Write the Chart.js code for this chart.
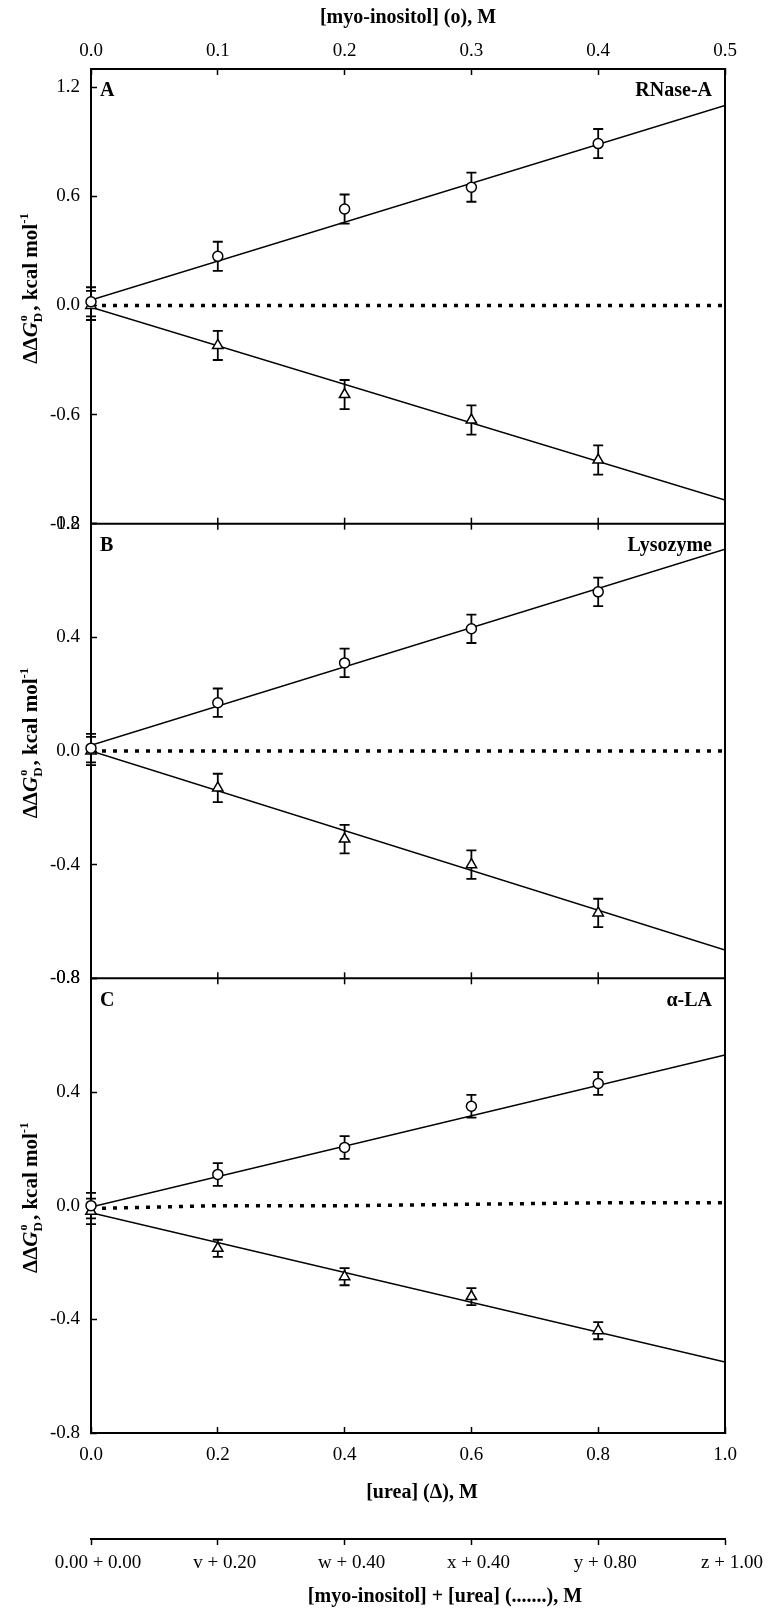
<!DOCTYPE html>
<html>
<head>
<meta charset="utf-8">
<script src="https://cdn.jsdelivr.net/npm/chart.js@4.4.1/dist/chart.umd.min.js"></script>
<style>
  html, body { margin: 0; padding: 0; background: #fff; }
  canvas { display: block; }
</style>
</head>
<body>
<canvas id="inositolChart" width="779" height="1615"></canvas>
<script>
// x positions (M)
const ureaConc = [0, 0.2, 0.4, 0.6, 0.8];
const inositolConc = [0, 0.1, 0.2, 0.3, 0.4];
const mixConc = [0, 0.2, 0.4, 0.6, 0.8, 1.0];
const mixTickLabels = ['0.00 + 0.00', 'v + 0.20', 'w + 0.40', 'x + 0.40', 'y + 0.80', 'z + 1.00'];
const ureaFitX = [0, 1.0];
const inositolFitX = [0, 0.5];

// y ticks for each panel
const ticksA = [-1.2, -0.6, 0, 0.6, 1.2];
const ticksBC = [-0.8, -0.4, 0, 0.4, 0.8];

const panelLetters = ['A', 'B', 'C'];
const proteinNames = ['RNase-A', 'Lysozyme', 'α-LA'];

// Panel A - RNase-A
const inositolA = [0.02, 0.27, 0.53, 0.65, 0.89];
const inositolErrA = [0.08, 0.08, 0.08, 0.08, 0.08];
const ureaA = [0.0, -0.22, -0.49, -0.63, -0.85];
const ureaErrA = [0.08, 0.08, 0.08, 0.08, 0.08];
const mixA = [0, 0, 0, 0, 0, 0];
const inositolFitA = [0.03, 1.10];
const ureaFitA = [-0.01, -1.07];

// Panel B - Lysozyme
const inositolB = [0.01, 0.17, 0.31, 0.43, 0.56];
const inositolErrB = [0.05, 0.05, 0.05, 0.05, 0.05];
const ureaB = [0.0, -0.13, -0.31, -0.40, -0.57];
const ureaErrB = [0.05, 0.05, 0.05, 0.05, 0.05];
const mixB = [0, 0, 0, 0, 0, 0];
const inositolFitB = [0.02, 0.71];
const ureaFitB = [0.0, -0.70];

// Panel C - alpha-LA
const inositolC = [0.0, 0.11, 0.205, 0.35, 0.43];
const inositolErrC = [0.045, 0.04, 0.04, 0.04, 0.04];
const ureaC = [-0.02, -0.15, -0.25, -0.32, -0.44];
const ureaErrC = [0.045, 0.03, 0.03, 0.03, 0.03];
const mixC = [-0.01, 0, 0, 0.005, 0.01, 0.01];
const inositolFitC = [-0.005, 0.53];
const ureaFitC = [-0.025, -0.55];

const serif = '"Liberation Serif", "Times New Roman", serif';
const tickFont = { family: serif, size: 19 };
const titleFont = { family: serif, size: 20, weight: 'bold' };

function pts(xs, ys) {
    return xs.map((x, i) => ({ x: x, y: ys[i] }));
}

function panelDatasets(yId, inoY, inoErr, ureaY, ureaErr, mixY, inoFit, ureaFit) {
    return [{
        label: 'myo-inositol',
        data: pts(inositolConc, inoY),
        errors: inoErr,
        xAxisID: 'x2', yAxisID: yId,
        pointStyle: 'circle', pointRadius: 5,
        pointBackgroundColor: '#fff', pointBorderColor: '#000', pointBorderWidth: 1.5,
        showLine: false, clip: false
    }, {
        label: 'urea',
        data: pts(ureaConc, ureaY),
        errors: ureaErr,
        xAxisID: 'x', yAxisID: yId,
        pointStyle: 'triangle', pointRadius: 6,
        pointBackgroundColor: '#fff', pointBorderColor: '#000', pointBorderWidth: 1.5,
        showLine: false, clip: false
    }, {
        label: 'myo-inositol fit',
        data: pts(inositolFitX, inoFit),
        xAxisID: 'x2', yAxisID: yId,
        showLine: true, pointRadius: 0, borderColor: '#000', borderWidth: 1.5
    }, {
        label: 'urea fit',
        data: pts(ureaFitX, ureaFit),
        xAxisID: 'x', yAxisID: yId,
        showLine: true, pointRadius: 0, borderColor: '#000', borderWidth: 1.5
    }, {
        label: 'mixture',
        data: pts(mixConc, mixY),
        xAxisID: 'x', yAxisID: yId,
        showLine: true, pointRadius: 0, borderColor: '#000', borderWidth: 3.5,
        borderDash: [4, 7], clip: false
    }];
}

function yAxis(min, max, ticks, weight) {
    return {
        type: 'linear', position: 'left', stack: 'panels', stackWeight: 1, weight: weight,
        min: min, max: max,
        afterBuildTicks: s => { s.ticks = ticks.map(v => ({ value: v })); },
        afterFit: s => { s.width = 91; },
        border: { display: true, color: '#000', width: 2 },
        grid: { drawOnChartArea: false, tickLength: -6, tickColor: '#000', tickWidth: 1.5 },
        ticks: { color: '#000', padding: 17, font: tickFont, callback: v => v.toFixed(1) }
    };
}

// error bars under the markers
const errorBarPlugin = {
    id: 'errorBars',
    beforeDatasetsDraw(chart) {
        const ctx = chart.ctx;
        ctx.save();
        ctx.strokeStyle = '#000';
        ctx.lineWidth = 1.8;
        chart.data.datasets.forEach(ds => {
            if (!ds.errors) return;
            const xs = chart.scales[ds.xAxisID];
            const ys = chart.scales[ds.yAxisID];
            ds.data.forEach((p, j) => {
                const x = xs.getPixelForValue(p.x);
                const y1 = ys.getPixelForValue(p.y + ds.errors[j]);
                const y2 = ys.getPixelForValue(p.y - ds.errors[j]);
                ctx.beginPath();
                ctx.moveTo(x, y1); ctx.lineTo(x, y2);
                ctx.moveTo(x - 5, y1); ctx.lineTo(x + 5, y1);
                ctx.moveTo(x - 5, y2); ctx.lineTo(x + 5, y2);
                ctx.stroke();
            });
        });
        ctx.restore();
    }
};

// right border, panel separators, panel labels, axis titles
const framePlugin = {
    id: 'frame',
    afterDraw(chart) {
        const ctx = chart.ctx;
        const area = chart.chartArea;
        const xs = chart.scales.x;
        const panels = ['yA', 'yB', 'yC'].map(id => chart.scales[id]);
        ctx.save();
        ctx.strokeStyle = '#000';
        ctx.lineWidth = 2;
        ctx.beginPath();
        ctx.moveTo(area.right, area.top - 1);
        ctx.lineTo(area.right, area.bottom + 1);
        ctx.stroke();

        // separators with ticks on both sides
        [panels[0].bottom, panels[1].bottom].forEach(y => {
            ctx.lineWidth = 2;
            ctx.beginPath();
            ctx.moveTo(area.left, y); ctx.lineTo(area.right, y);
            ctx.stroke();
            ctx.lineWidth = 1.5;
            xs.ticks.forEach(t => {
                if (t.value <= 0 || t.value >= 1) return;
                const x = xs.getPixelForValue(t.value);
                ctx.beginPath();
                ctx.moveTo(x, y - 6); ctx.lineTo(x, y + 6);
                ctx.stroke();
            });
        });

        ctx.fillStyle = '#000';
        ctx.textBaseline = 'middle';

        // bottom axis titles (sit a little right of centre in the original)
        const midX = (area.left + area.right) / 2;
        ctx.font = 'bold 20px ' + serif;
        ctx.textAlign = 'center';
        ctx.fillText('[urea] (Δ), M', midX + 14, chart.scales.x.bottom - 46);
        ctx.fillText('[myo-inositol] + [urea] (.......), M', midX + 37, chart.scales.x3.bottom - 18);

        // panel letters and protein names
        ctx.font = 'bold 20px ' + serif;
        panels.forEach((s, i) => {
            ctx.textAlign = 'left';
            ctx.fillText(panelLetters[i], area.left + 9, s.top + 22);
            ctx.textAlign = 'right';
            ctx.fillText(proteinNames[i], area.right - 13, s.top + 22);
        });

        // y axis titles
        const parts = [
            { t: 'ΔΔ', f: 'bold 21px ' + serif, dy: 0 },
            { t: 'G', f: 'italic bold 21px ' + serif, dy: 0 },
            { t: 'D', f: 'bold 13px ' + serif, dy: 5, pair: { t: 'o', f: 'bold 12px ' + serif, dy: -10 } },
            { t: ', kcal mol', f: 'bold 21px ' + serif, dy: 0 },
            { t: '-1', f: 'bold 13px ' + serif, dy: -9 }
        ];
        ctx.textAlign = 'left';
        ctx.textBaseline = 'alphabetic';
        let total = 0;
        parts.forEach(p => {
            ctx.font = p.f;
            p.w = ctx.measureText(p.t).width;
            if (p.pair) {
                ctx.font = p.pair.f;
                p.w = Math.max(p.w, ctx.measureText(p.pair.t).width) + 2;
            }
            total += p.w;
        });
        panels.forEach(s => {
            ctx.save();
            ctx.translate(37, (s.top + s.bottom) / 2 - 8);
            ctx.rotate(-Math.PI / 2);
            let x = -total / 2;
            parts.forEach(p => {
                ctx.font = p.f;
                ctx.fillText(p.t, x, p.dy);
                if (p.pair) {
                    ctx.font = p.pair.f;
                    ctx.fillText(p.pair.t, x + 1, p.pair.dy);
                }
                x += p.w;
            });
            ctx.restore();
        });
        ctx.restore();
    }
};

const datasets = []
    .concat(panelDatasets('yA', inositolA, inositolErrA, ureaA, ureaErrA, mixA, inositolFitA, ureaFitA))
    .concat(panelDatasets('yB', inositolB, inositolErrB, ureaB, ureaErrB, mixB, inositolFitB, ureaFitB))
    .concat(panelDatasets('yC', inositolC, inositolErrC, ureaC, ureaErrC, mixC, inositolFitC, ureaFitC));

const ctx = document.getElementById('inositolChart').getContext('2d');
const inositolChart = new Chart(ctx, {
    type: 'scatter',
    data: { datasets: datasets },
    options: {
        responsive: false,
        animation: false,
        layout: { padding: { left: 0, right: 54, top: 0, bottom: 0 } },
        plugins: { legend: { display: false }, tooltip: { enabled: false } },
        scales: {
            x: {
                type: 'linear', position: 'bottom', min: 0, max: 1,
                afterFit: s => { s.height = 106; },
                border: { color: '#000', width: 2 },
                grid: { drawOnChartArea: false, tickLength: -6, tickColor: '#000', tickWidth: 1.5 },
                ticks: { stepSize: 0.2, color: '#000', padding: 17, font: tickFont, maxRotation: 0,
                         callback: v => v.toFixed(1) }
            },
            x3: {
                type: 'linear', position: 'bottom', min: 0, max: 1,
                afterFit: s => { s.height = 76; },
                afterBuildTicks: s => { s.ticks = mixConc.map(v => ({ value: v })); },
                border: { color: '#000', width: 2 },
                grid: { drawOnChartArea: false, tickLength: 6, tickColor: '#000', tickWidth: 1.5 },
                ticks: { color: '#000', padding: 7, font: tickFont, maxRotation: 0, autoSkip: false,
                         labelOffset: 7, callback: (v, i) => mixTickLabels[i] }
            },
            x2: {
                type: 'linear', position: 'top', min: 0, max: 0.5,
                afterFit: s => { s.height = 69; },
                border: { color: '#000', width: 2 },
                grid: { drawOnChartArea: false, tickLength: -6, tickColor: '#000', tickWidth: 1.5 },
                ticks: { stepSize: 0.1, color: '#000', padding: 13, font: tickFont, maxRotation: 0,
                         callback: v => v.toFixed(1) },
                title: { display: true, text: '[myo-inositol] (o), M', color: '#000', font: titleFont,
                         padding: { top: 6, bottom: 0 } }
            },
            yA: yAxis(-1.2, 1.3, ticksA, 3),
            yB: yAxis(-0.8, 0.8, ticksBC, 2),
            yC: yAxis(-0.8, 0.8, ticksBC, 1)
        }
    },
    plugins: [errorBarPlugin, framePlugin]
});
</script>
</body>
</html>
